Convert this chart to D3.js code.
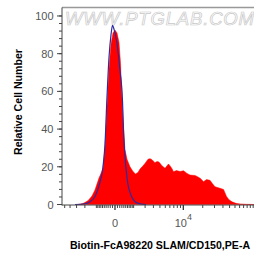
<!DOCTYPE html>
<html>
<head>
<meta charset="utf-8">
<script src="https://cdn.jsdelivr.net/npm/d3@7"></script>
<style>
  body { margin: 0; background: #fff; }
  svg { display: block; font-family: "Liberation Sans", Arial, sans-serif; }
</style>
</head>
<body>
<svg width="254" height="258"></svg>
<script>
// sample histogram (red, filled): fluorescence value / relative count
const sampleX = [-2810, -2204, -1691, -1337, -1100, -819, -572, -460, -356, -258, -166, -80, 0,
  80, 166, 234, 306, 381, 460, 572, 754, 955, 1138, 1337, 1508, 1787, 1989, 2318, 2556, 2810,
  3224, 3524, 3844, 4365, 4941, 5357, 5688, 6155, 6526, 6915, 7755, 8845, 10071, 11440, 12755,
  15244, 16950, 18500, 20545, 22790, 25720, 28030, 30530, 36190, 40760, 45130, 49080, 54310,
  62080, 71000, 86740, 113200];
const sampleY = [0, 0.5, 2, 4.5, 7.7, 14, 19, 30, 52, 72, 85, 91, 92.5,
  91, 86, 75, 56, 40, 29, 24, 20, 17.5, 16.2, 17, 18.8, 20.5, 21.8, 24, 24.3, 23.8,
  22.2, 22.8, 22.5, 20.5, 19.2, 20.5, 21.5, 20.2, 19, 17.4, 18, 17.5, 17.9, 16.5, 15.6,
  15.4, 14.6, 13.8, 12.1, 13.2, 12.8, 11, 9.4, 8.6, 8, 4.3, 2.5, 1.4,
  0.6, 0.3, 0.1, 0];

// control histogram (blue outline)
const controlX = [-3224, -1989, -1508, -1100, -819, -572, -460, -356, -258, -166, -101, -39,
  60, 211, 331, 381, 434, 589, 865, 1100, 1508, 2095];
const controlY = [0, 0.4, 1.5, 4.2, 10, 20, 32, 57, 78, 90, 95, 93,
  87, 71, 55, 40, 29, 13, 4.1, 1.5, 0.4, 0];

// axis ticks
const yTicks = [0, 20, 40, 60, 80, 100];
const xLabels = [{ v: 0, base: "0", sup: "" }, { v: 10000, base: "10", sup: "4" }];

// chart frame
const frame = { left: 62, right: 256, top: 7.5, bottom: 204.5 };

const svg = d3.select("svg");

// scales
const x = d3.scaleSymlog()
  .constant(1182)
  .domain([-5572, 120900])
  .range([frame.left, frame.right]);
const y = d3.scaleLinear()
  .domain([0, 104.5])
  .range([frame.bottom, frame.top]);

// watermark
svg.append("text")
  .attr("x", 65)
  .attr("y", 25)
  .attr("textLength", 189)
  .attr("lengthAdjust", "spacing")
  .style("font-size", "18.5px")
  .style("font-style", "italic")
  .attr("fill", "#fff")
  .attr("stroke", "#c8c8c8")
  .attr("stroke-width", 0.7)
  .text("WWW.PTGLAB.COM");

// sample area
const area = d3.area()
  .x(d => x(d[0]))
  .y0(y(0))
  .y1(d => y(d[1]));
svg.append("path")
  .datum(d3.zip(sampleX, sampleY))
  .attr("fill", "#ff0000")
  .attr("stroke", "#ff0000")
  .attr("stroke-width", 0.5)
  .attr("d", area);

// control line
const line = d3.line()
  .x(d => x(d[0]))
  .y(d => y(d[1]))
  .curve(d3.curveMonotoneX);
svg.append("path")
  .datum(d3.zip(controlX, controlY))
  .attr("fill", "none")
  .attr("stroke", "#2e2a9e")
  .attr("stroke-width", 1.2)
  .attr("d", line);

// frame top
svg.append("line")
  .attr("x1", frame.left).attr("x2", 254)
  .attr("y1", frame.top).attr("y2", frame.top)
  .attr("stroke", "#999")
  .attr("stroke-width", 1.5);

// y axis
const yAxis = svg.append("g")
  .attr("transform", "translate(" + frame.left + ",0)");
yAxis.append("line")
  .attr("y1", frame.top).attr("y2", frame.bottom + 1)
  .attr("stroke", "#444");
yAxis.selectAll(".minor")
  .data(d3.range(0, 104, 4))
  .join("line")
  .attr("class", "minor")
  .attr("x1", -3).attr("x2", 0)
  .attr("y1", d => y(d)).attr("y2", d => y(d))
  .attr("stroke", "#444");
yAxis.selectAll(".major")
  .data(yTicks)
  .join("line")
  .attr("class", "major")
  .attr("x1", -5).attr("x2", 0)
  .attr("y1", d => y(d)).attr("y2", d => y(d))
  .attr("stroke", "#444");
yAxis.selectAll("text")
  .data(yTicks)
  .join("text")
  .attr("x", -8.5)
  .attr("y", d => y(d) + 4)
  .attr("text-anchor", "end")
  .attr("fill", "#555")
  .style("font-size", "11px")
  .text(d => d);

// x axis
const minorX = [].concat(
  d3.range(-5000, -999, 1000),
  d3.range(-900, 0, 100),
  d3.range(100, 1000, 100),
  d3.range(1000, 10000, 1000),
  d3.range(20000, 120000, 10000)
);
const xAxis = svg.append("g")
  .attr("transform", "translate(0," + (frame.bottom + 0.5) + ")");
xAxis.append("line")
  .attr("x1", frame.left).attr("x2", 254)
  .attr("stroke", "#444");
xAxis.selectAll(".minor")
  .data(minorX)
  .join("line")
  .attr("class", "minor")
  .attr("x1", d => x(d)).attr("x2", d => x(d))
  .attr("y1", 0).attr("y2", 3)
  .attr("stroke", "#444");
xAxis.selectAll(".major")
  .data(xLabels)
  .join("line")
  .attr("class", "major")
  .attr("x1", d => x(d.v)).attr("x2", d => x(d.v))
  .attr("y1", 0).attr("y2", 5)
  .attr("stroke", "#333")
  .attr("stroke-width", 1.3);
const xt = xAxis.selectAll("text")
  .data(xLabels)
  .join("text")
  .attr("x", d => x(d.v))
  .attr("y", 21.5)
  .attr("text-anchor", "middle")
  .attr("fill", "#555")
  .style("font-size", "11px");
xt.append("tspan").text(d => d.base);
xt.append("tspan")
  .attr("dy", -7)
  .style("font-size", "9px")
  .text(d => d.sup);

// axis titles
svg.append("text")
  .attr("x", 160)
  .attr("y", 249)
  .attr("text-anchor", "middle")
  .style("font-size", "10.6px")
  .style("font-weight", "bold")
  .text("Biotin-FcA98220 SLAM/CD150,PE-A");
svg.append("text")
  .attr("transform", "translate(22,102) rotate(-90)")
  .attr("text-anchor", "middle")
  .style("font-size", "10.6px")
  .style("font-weight", "bold")
  .text("Relative Cell Number");
</script>
</body>
</html>
